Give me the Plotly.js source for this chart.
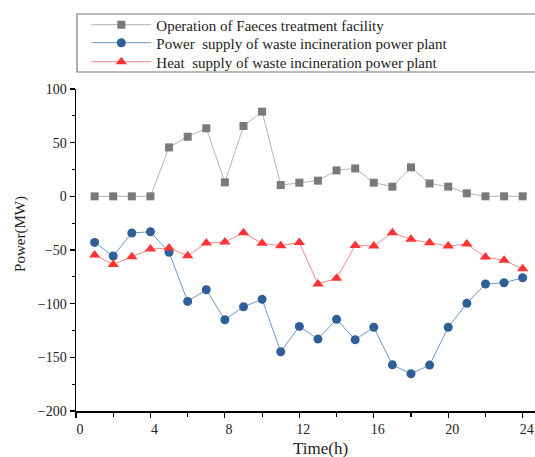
<!DOCTYPE html>
<html>
<head>
<meta charset="utf-8">
<script src="https://cdn.plot.ly/plotly-3.0.1.min.js"></script>
<style>
html,body{margin:0;padding:0;overflow:hidden;background:#fff;}
#chart{width:560px;height:457px;}
#chart text{font-family:'Liberation Serif','Times New Roman',serif !important;}
</style>
</head>
<body>
<div id="chart"></div>
<script>
// Data
var hours = [1,2,3,4,5,6,7,8,9,10,11,12,13,14,15,16,17,18,19,20,21,22,23,24];
var faecesOperation = [0,0,0,0,45.6,55.5,63.4,13,65.5,78.9,10.5,12.7,14.6,24.2,26,12.7,9,27,12,9,2.8,0,0,0];
var powerSupply = [-42.9,-55.6,-34.2,-33,-52.2,-97.9,-87,-115,-102.9,-96,-144.8,-121.2,-133,-114.6,-133.6,-122,-157,-165.3,-157.2,-122,-99.7,-81.7,-80.5,-75.9];
var heatSupply = [-54.7,-63.4,-56.3,-49.1,-48.2,-55.4,-43.5,-42.6,-33.9,-43.8,-46,-43,-81.7,-76.4,-45.7,-46.3,-33.9,-40.1,-43.2,-46.3,-44.5,-56.6,-59.6,-67.5];
var seriesNames = [
  "Operation of Faeces treatment facility",
  "Power  supply of waste incineration power plant",
  "Heat  supply of waste incineration power plant"
];
var xTickVals = [0,4,8,12,16,20,24];
var yTickVals = [-200,-150,-100,-50,0,50,100];

var serif = "Liberation Serif";

var traces = [
  {x: hours, y: faecesOperation, name: seriesNames[0], legend: "legend", type: "scatter", mode: "lines+markers",
   line: {color: "#b4b4b4", width: 1}, marker: {symbol: "square", size: 8, color: "#7a7a7a"}},
  {x: hours, y: powerSupply, name: seriesNames[1], legend: "legend2", type: "scatter", mode: "lines+markers",
   line: {color: "#6f98c8", width: 1}, marker: {symbol: "circle", size: 9, color: "#2f5f96"}},
  {x: hours, y: heatSupply, name: seriesNames[2], legend: "legend3", type: "scatter", mode: "lines+markers",
   line: {color: "#ff8585", width: 1}, marker: {symbol: "triangle-up", size: 10, color: "#ff3333"}}
];

function legendAt(yp) {
  return {
    x: 0.022, y: yp, xref: "paper", yref: "paper",
    xanchor: "left", yanchor: "middle",
    bgcolor: "rgba(0,0,0,0)", borderwidth: 0,
    font: {family: serif, size: 15, color: "#222"},
    itemwidth: 60
  };
}

var layout = {
  width: 560, height: 457,
  margin: {l: 76, r: 15, t: 89, b: 46, autoexpand: false},
  paper_bgcolor: "#fff", plot_bgcolor: "#fff",
  font: {family: serif, color: "#222", size: 14},
  showlegend: true,
  legend: legendAt(1.199),
  legend2: legendAt(1.143),
  legend3: legendAt(1.084),
  xaxis: {
    range: [0, 25.2], showgrid: false, zeroline: false,
    showline: true, linecolor: "#000", linewidth: 1.5,
    ticks: "outside", ticklen: 5, tickwidth: 1.2, tickcolor: "#000",
    tickmode: "array", tickvals: xTickVals, ticktext: xTickVals.map(String),
    ticklabelshift: 4,
    minor: {dtick: 2, tick0: 0, ticks: "outside", ticklen: 4, tickwidth: 1.2, tickcolor: "#000", showgrid: false},
    tickfont: {family: serif, size: 14, color: "#222"}
  },
  xaxis2: {
    overlaying: "x", side: "top", anchor: "y",
    range: [0, 25.2], showgrid: false, zeroline: false,
    showline: true, linecolor: "#000", linewidth: 1.5,
    ticks: "inside", ticklen: 5, tickwidth: 1.2, tickcolor: "#000",
    tickmode: "linear", dtick: 2, tick0: 0, showticklabels: false
  },
  yaxis: {
    range: [-200, 100], showgrid: false, zeroline: false,
    showline: true, linecolor: "#000", linewidth: 1.5,
    ticks: "outside", ticklen: 5, tickwidth: 1.2, tickcolor: "#000",
    tickmode: "array", tickvals: yTickVals, ticktext: yTickVals.map(function(v){return v<0 ? "\u2212"+Math.abs(v) : String(v);}),
    minor: {dtick: 25, tick0: 0, ticks: "outside", ticklen: 3, tickwidth: 1.2, tickcolor: "#000", showgrid: false},
    tickfont: {family: serif, size: 14, color: "#222"}
  },
  shapes: [
    {type: "rect", xref: "paper", yref: "paper", xsizemode: "pixel", ysizemode: "pixel",
     xanchor: 0, yanchor: 1, x0: 1, x1: 470, y0: 75, y1: 17,
     line: {color: "#777", width: 1.2}, fillcolor: "rgba(0,0,0,0)"}
  ],
  annotations: [
    {text: "Power(MW)", xref: "paper", yref: "paper", x: 0, y: 0.55, xanchor: "center", yanchor: "middle",
     xshift: -55, textangle: -90, showarrow: false, font: {family: serif, size: 15, color: "#222"}},
    {text: "Time(h)", xref: "paper", yref: "paper", x: 0.5, y: 0, xanchor: "center", yanchor: "middle",
     xshift: 10, yshift: -37, showarrow: false, font: {family: serif, size: 17, color: "#222"}}
  ]
};

Plotly.newPlot("chart", traces, layout, {displayModeBar: false, staticPlot: true});
</script>
</body>
</html>
